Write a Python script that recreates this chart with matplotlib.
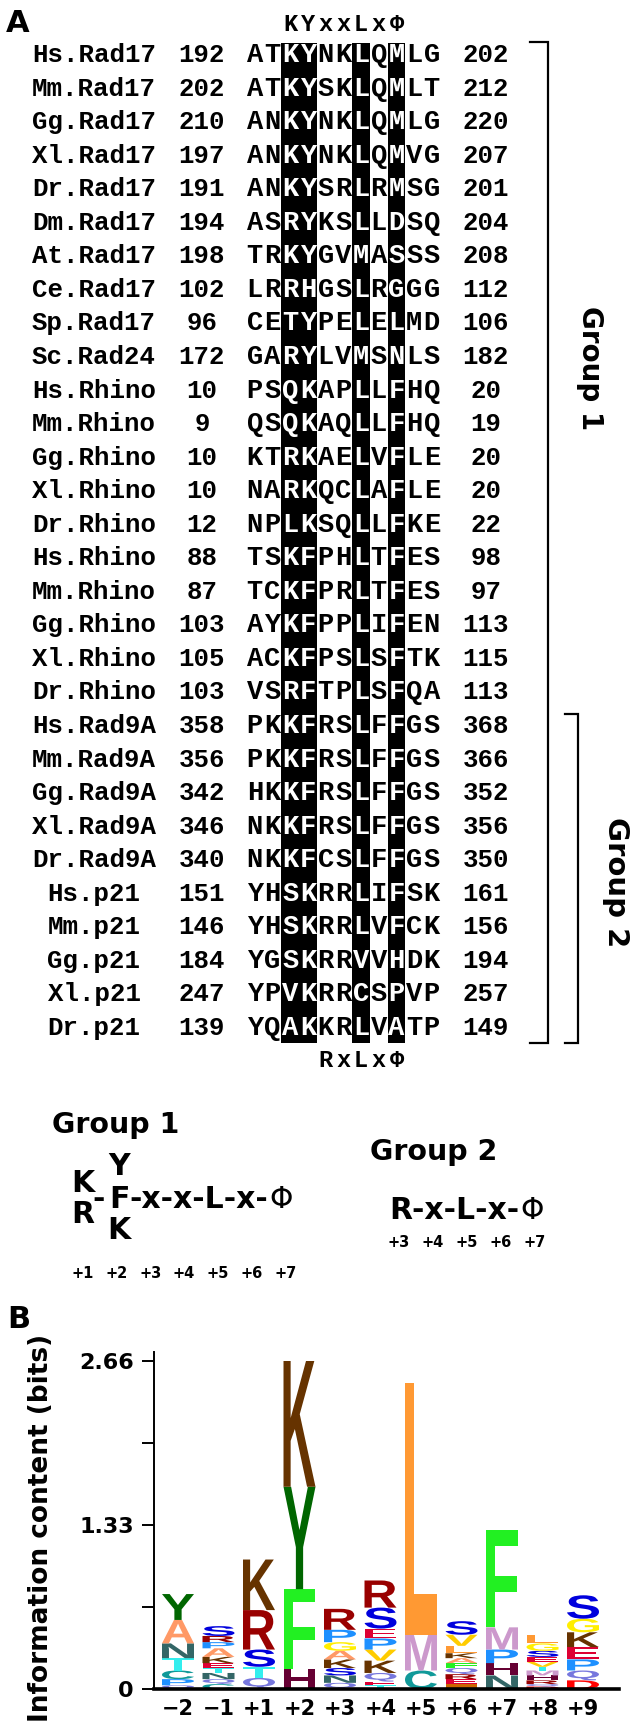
import matplotlib
matplotlib.use('Agg')
import matplotlib.pyplot as plt
from matplotlib.textpath import TextPath
from matplotlib.patches import PathPatch, Rectangle
from matplotlib.font_manager import FontProperties
import matplotlib.transforms as mtrans

# ---------------- data: panel A alignment ----------------
names = ['Hs.Rad17', 'Mm.Rad17', 'Gg.Rad17', 'Xl.Rad17', 'Dr.Rad17', 'Dm.Rad17',
         'At.Rad17', 'Ce.Rad17', 'Sp.Rad17', 'Sc.Rad24', 'Hs.Rhino', 'Mm.Rhino',
         'Gg.Rhino', 'Xl.Rhino', 'Dr.Rhino', 'Hs.Rhino', 'Mm.Rhino', 'Gg.Rhino',
         'Xl.Rhino', 'Dr.Rhino', 'Hs.Rad9A', 'Mm.Rad9A', 'Gg.Rad9A', 'Xl.Rad9A',
         'Dr.Rad9A', 'Hs.p21', 'Mm.p21', 'Gg.p21', 'Xl.p21', 'Dr.p21']
starts = [192, 202, 210, 197, 191, 194, 198, 102, 96, 172, 10, 9, 10, 10, 12,
          88, 87, 103, 105, 103, 358, 356, 342, 346, 340, 151, 146, 184, 247, 139]
ends = [202, 212, 220, 207, 201, 204, 208, 112, 106, 182, 20, 19, 20, 20, 22,
        98, 97, 113, 115, 113, 368, 366, 352, 356, 350, 161, 156, 194, 257, 149]
seqs = ['ATKYNKLQMLG', 'ATKYSKLQMLT', 'ANKYNKLQMLG', 'ANKYNKLQMVG', 'ANKYSRLRMSG',
        'ASRYKSLLDSQ', 'TRKYGVMASSS', 'LRRHGSLRGGG', 'CETYPELELMD', 'GARYLVMSNLS',
        'PSQKAPLLFHQ', 'QSQKAQLLFHQ', 'KTRKAELVFLE', 'NARKQCLAFLE', 'NPLKSQLLFKE',
        'TSKFPHLTFES', 'TCKFPRLTFES', 'AYKFPPLIFEN', 'ACKFPSLSFTK', 'VSRFTPLSFQA',
        'PKKFRSLFFGS', 'PKKFRSLFFGS', 'HKKFRSLFFGS', 'NKKFRSLFFGS', 'NKKFCSLFFGS',
        'YHSKRRLIFSK', 'YHSKRRLVFCK', 'YGSKRRVVHDK', 'YPVKRRCSPVP', 'YQAKKRLVATP']
boxed_cols = [2, 3, 6, 8]
top_motif = ['', '', 'K', 'Y', 'x', 'x', 'L', 'x', 'Φ', '', '']
bottom_motif = ['', '', '', '', 'R', 'x', 'L', 'x', 'Φ', '', '']
group2_first_row = 20

group1_pos = ['+1', '+2', '+3', '+4', '+5', '+6', '+7']
group2_pos = ['+3', '+4', '+5', '+6', '+7']

# ---------------- data: panel B sequence logo (bottom -> top, bits) ----------------
pos_labels = ['\u22122', '\u22121', '+1', '+2', '+3', '+4', '+5', '+6', '+7', '+8', '+9']
letters_m2 = ['Q', 'P', 'C', 'T', 'N', 'A', 'Y']
bits_m2 = [0.03, 0.05, 0.07, 0.10, 0.12, 0.19, 0.21]
letters_m1 = ['C', 'Q', 'N', 'T', 'E', 'K', 'A', 'P', 'R', 'S']
bits_m1 = [0.04, 0.04, 0.05, 0.04, 0.04, 0.05, 0.07, 0.05, 0.05, 0.08]
letters_p1 = ['Q', 'T', 'S', 'R', 'K']
bits_p1 = [0.09, 0.09, 0.14, 0.32, 0.41]
letters_p2 = ['H', 'F', 'Y', 'K']
bits_p2 = [0.16, 0.65, 0.83, 1.02]
letters_p3 = ['Q', 'N', 'S', 'K', 'A', 'G', 'P', 'R']
bits_p3 = [0.05, 0.06, 0.06, 0.07, 0.07, 0.07, 0.10, 0.17]
letters_p4 = ['T', 'E', 'Q', 'K', 'V', 'P', 'E', 'S', 'R']
bits_p4 = [0.03, 0.03, 0.07, 0.10, 0.09, 0.09, 0.08, 0.17, 0.22]
letters_p5 = ['C', 'M', 'L']
bits_p5 = [0.15, 0.29, 2.04]
letters_p6 = ['I', 'E', 'R', 'Q', 'F', 'A', 'K', 'L', 'V', 'S']
bits_p6 = [0.04, 0.04, 0.04, 0.05, 0.04, 0.04, 0.04, 0.06, 0.09, 0.11]
letters_p7 = ['N', 'H', 'P', 'M', 'F']
bits_p7 = [0.11, 0.10, 0.11, 0.18, 0.79]
letters_p8 = ['D', 'Q', 'R', 'H', 'M', 'T', 'V', 'E', 'S', 'G', 'L']
bits_p8 = [0.02, 0.02, 0.03, 0.04, 0.04, 0.03, 0.04, 0.04, 0.05, 0.06, 0.07]
letters_p9 = ['D', 'Q', 'P', 'E', 'K', 'G', 'S']
bits_p9 = [0.07, 0.08, 0.09, 0.10, 0.12, 0.11, 0.19]

aa_colors = {
    'K': '#663300', 'Y': '#006600', 'F': '#22F022', 'L': '#FF9933', 'M': '#CC99CC',
    'R': '#990000', 'S': '#0000DD', 'H': '#660033', 'P': '#1E90FF', 'E': '#DD0033',
    'G': '#FFEE00', 'A': '#FF9966', 'T': '#33EEEE', 'C': '#119999', 'N': '#336666',
    'Q': '#7777DD', 'V': '#FFCC00', 'D': '#FF0000', 'I': '#CC6600',
}

# ---------------- figure ----------------
W, H = 635, 1723
fig = plt.figure(figsize=(W / 100, H / 100), dpi=100)
ax0 = fig.add_axes([0, 0, 1, 1])
ax0.set_xlim(0, W)
ax0.set_ylim(H, 0)
ax0.axis('off')
renderer = fig.canvas.get_renderer()

MONO = 'Liberation Mono'
SANS = ['DejaVu Sans']

ROW0, DY = 62, 33.55          # baseline of first row, row spacing (px)
COL0, CW = 246, 17.7          # left edge of sequence block, column width (px)
BOX_TOP, BOX_BOT = 43, 1043
NAME_X, START_X, END_X = 94, 202, 486

ax0.text(6, 32, 'A', family=SANS, weight='bold', fontsize=22, ha='left', va='baseline')

for j in boxed_cols:
    ax0.add_patch(Rectangle((COL0 + CW * j, BOX_TOP), CW, BOX_BOT - BOX_TOP,
                            fc='black', ec='none', zorder=1))

for j, ch in enumerate(top_motif):
    if ch:
        ax0.text(COL0 + CW * (j + 0.5), 31, ch, family=MONO, weight='bold',
                 fontsize=17, ha='center', va='baseline')
for j, ch in enumerate(bottom_motif):
    if ch:
        ax0.text(COL0 + CW * (j + 0.5), 1067, ch, family=MONO, weight='bold',
                 fontsize=17, ha='center', va='baseline')

for i, (nm, s, e, seq) in enumerate(zip(names, starts, ends, seqs)):
    yb = ROW0 + i * DY
    ax0.text(NAME_X, yb, nm, family=MONO, weight='bold', fontsize=18.5, ha='center', va='baseline')
    ax0.text(START_X, yb, str(s), family=MONO, weight='bold', fontsize=18.5, ha='center', va='baseline')
    ax0.text(END_X, yb, str(e), family=MONO, weight='bold', fontsize=18.5, ha='center', va='baseline')
    for j, ch in enumerate(seq):
        ax0.text(COL0 + CW * (j + 0.5), yb, ch, family=MONO, weight='bold', fontsize=19.5,
                 ha='center', va='baseline',
                 color='white' if j in boxed_cols else 'black', zorder=2)

# brackets
g1_top = BOX_TOP - 1
g2_top = ROW0 + group2_first_row * DY - 19
ax0.plot([530, 548, 548, 530], [g1_top, g1_top, BOX_BOT, BOX_BOT], color='black', lw=1.6,
         solid_joinstyle='miter')
ax0.plot([565, 578, 578, 565], [g2_top, g2_top, BOX_BOT, BOX_BOT], color='black', lw=1.6,
         solid_joinstyle='miter')
ax0.text(590, 368, 'Group 1', family=SANS, weight='bold', fontsize=20, rotation=-90,
         ha='center', va='center')
ax0.text(616, 882, 'Group 2', family=SANS, weight='bold', fontsize=21, rotation=-90,
         ha='center', va='center')

# motif summary
ax0.text(52, 1133, 'Group 1', family=SANS, weight='bold', fontsize=20.5, ha='left', va='baseline')
ax0.text(370, 1160, 'Group 2', family=SANS, weight='bold', fontsize=20.5, ha='left', va='baseline')

MF = 21.5


def chain(x, y, s, weight='bold'):
    t = ax0.text(x, y, s, family=SANS, weight=weight, fontsize=MF, ha='left', va='baseline')
    return t.get_window_extent(renderer=renderer).x1


ax0.text(71, 1192, 'K', family=SANS, weight='bold', fontsize=MF, ha='left', va='baseline')
ax0.text(71, 1223, 'R', family=SANS, weight='bold', fontsize=MF, ha='left', va='baseline')
chain(92, 1208, '-')
ax0.text(119, 1175, 'Y', family=SANS, weight='bold', fontsize=MF, ha='center', va='baseline')
tF = ax0.text(119, 1208, 'F', family=SANS, weight='bold', fontsize=MF, ha='center', va='baseline')
ax0.text(119, 1239, 'K', family=SANS, weight='bold', fontsize=MF, ha='center', va='baseline')
xe = tF.get_window_extent(renderer=renderer).x1
xe = chain(xe, 1208, '-x-x-L-x-')
chain(xe + 1, 1208, 'Φ', weight='normal')

xe = chain(389, 1219, 'R-x-L-x-')
chain(xe + 1, 1219, 'Φ', weight='normal')

for k, lab in enumerate(group1_pos):
    ax0.text(83 + 33.7 * k, 1278, lab, family=SANS, weight='bold', fontsize=10.5,
             ha='center', va='baseline')
for k, lab in enumerate(group2_pos):
    ax0.text(399 + 33.8 * k, 1247, lab, family=SANS, weight='bold', fontsize=10.5,
             ha='center', va='baseline')

ax0.text(7, 1328, 'B', family=SANS, weight='bold', fontsize=22, ha='left', va='baseline')

# ---------------- panel B: sequence logo ----------------
AX_L, AX_R, AX_Y0, AX_YT = 154, 619, 1689, 1352
X0, DX = 178, 40.5
Y266 = 1361
axL = fig.add_axes([AX_L / W, (H - AX_Y0) / H, (AX_R - AX_L) / W, (AX_Y0 - AX_YT) / H])
axL.set_xlim((AX_L - X0) / DX, (AX_R - X0) / DX)
ymax = 2.66 * (AX_Y0 - AX_YT) / (AX_Y0 - Y266)
axL.set_ylim(0, ymax)
axL.patch.set_alpha(0)

fp = FontProperties(family='Liberation Sans', weight='bold')
stacks = [(letters_m2, bits_m2), (letters_m1, bits_m1), (letters_p1, bits_p1),
          (letters_p2, bits_p2), (letters_p3, bits_p3), (letters_p4, bits_p4),
          (letters_p5, bits_p5), (letters_p6, bits_p6), (letters_p7, bits_p7),
          (letters_p8, bits_p8), (letters_p9, bits_p9)]
LW = 0.79


def draw_letter(ax, ch, xc, y, w, h, color):
    tp = TextPath((0, 0), ch, size=1, prop=fp)
    bb = tp.get_extents()
    tr = (mtrans.Affine2D().translate(-bb.x0, -bb.y0)
          .scale(w / bb.width, h / bb.height).translate(xc - w / 2, y))
    ax.add_patch(PathPatch(tr.transform_path(tp), fc=color, ec='none', lw=0))


for xi, (lets, bits) in enumerate(stacks):
    y = 0.0
    for ch, b in zip(lets, bits):
        draw_letter(axL, ch, xi, y, LW, b, aa_colors[ch])
        y += b

axL.spines['top'].set_visible(False)
axL.spines['right'].set_visible(False)
axL.spines['left'].set_linewidth(1.4)
axL.spines['bottom'].set_linewidth(2.6)
axL.set_yticks([0, 1.33, 2.66])
axL.set_yticklabels(['0', '1.33', '2.66'], fontsize=16, fontweight='bold', family=SANS)
axL.set_yticks([0.665, 1.995], minor=True)
axL.tick_params(axis='y', which='both', direction='out', length=8.5, width=1.4, pad=6)
axL.set_xticks(range(len(pos_labels)))
axL.set_xticklabels(pos_labels, fontsize=15, fontweight='bold', family=SANS)
axL.tick_params(axis='x', length=0, pad=7)
axL.set_ylabel('Information content (bits)', fontsize=19, fontweight='bold', family=SANS)
axL.yaxis.set_label_coords((54 - AX_L) / (AX_R - AX_L), 0.478)

fig.savefig('out.png', dpi=100)
